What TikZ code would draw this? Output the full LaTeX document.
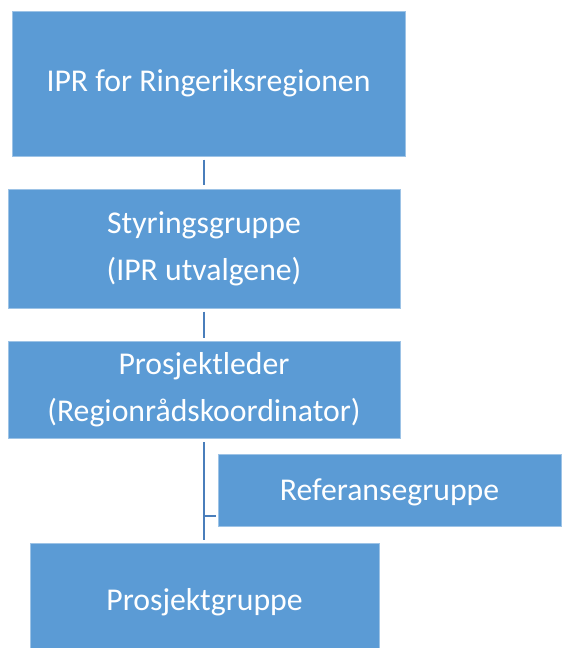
\documentclass[tikz,border=0pt]{standalone}
\usepackage{fontspec}
\setmainfont{Carlito}
\definecolor{boxblue}{HTML}{5B9BD5}
\definecolor{lineblue}{HTML}{4A7EBB}
\begin{document}
\begin{tikzpicture}[x=0.75pt,y=-0.75pt,
  orgbox/.style={rectangle,fill=boxblue,draw=boxblue!60!white,line width=0.6pt,text=white,
    inner sep=0pt,align=center,font=\fontsize{23.8}{35.3}\selectfont},
  boxtext/.style={text=white,inner sep=0pt,font=\fontsize{23.8}{35.3}\selectfont},
  conn/.style={draw=lineblue,line width=1.6pt}]
\useasboundingbox (0,0) rectangle (561,648);
\node[orgbox,minimum width=393*0.75pt,minimum height=145*0.75pt] (b1) at (208.5,83.5) {IPR for Ringeriksregionen};
\node[orgbox,minimum width=392*0.75pt,minimum height=119*0.75pt] (b2) at (204,248.5) {Styringsgruppe\\(IPR utvalgene)};
\node[orgbox,minimum width=392*0.75pt,minimum height=97*0.75pt] (b3) at (204,390) {Prosjektleder\\(Regionrådskoordinator)};
\node[orgbox,minimum width=343*0.75pt,minimum height=72*0.75pt] (b4) at (389.5,490) {};
\node[boxtext] (t4) at ([yshift=-1.5pt]b4.center) {Referansegruppe};
\node[orgbox,minimum width=349*0.75pt,minimum height=105*0.75pt] (b5) at (204.5,595.5) {};
\node[boxtext] (t5) at ([yshift=-5pt]b5.center) {Prosjektgruppe};
\coordinate (br) at (204,516);
\draw[conn,shorten <=2.5pt,shorten >=2.5pt] (b1.south -| b2.north) -- (b2.north);
\draw[conn,shorten <=2.5pt,shorten >=2.5pt] (b2.south) -- (b3.north);
\draw[conn,shorten <=2.5pt,shorten >=2pt] (b3.south) -- (b3.south |- b5.north);
\draw[conn,shorten >=1.5pt] (br) -- (br -| b4.west);
\end{tikzpicture}
\end{document}
